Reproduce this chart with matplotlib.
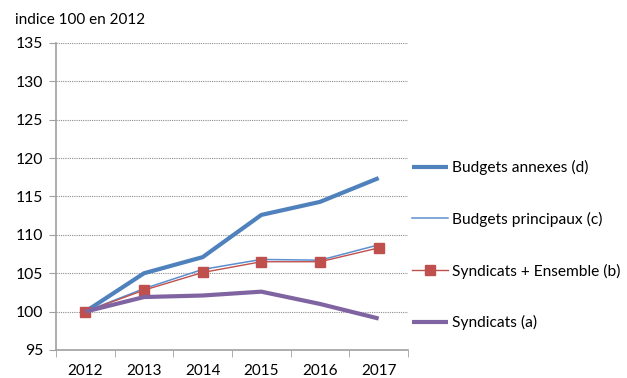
import numpy as np
import matplotlib.pyplot as plt
from matplotlib.ticker import FixedLocator

plt.rcParams['font.family'] = ['Lato', 'DejaVu Sans']

years = ["2012", "2013", "2014", "2015", "2016", "2017"]
budgets_annexes = [100, 105.0, 107.1, 112.6, 114.3, 117.4]
budgets_principaux = [100, 103.0, 105.5, 106.8, 106.7, 108.7]
syndicats_ensemble = [100, 102.8, 105.1, 106.5, 106.5, 108.3]
syndicats = [100, 101.9, 102.1, 102.6, 101.0, 99.1]

x = np.arange(len(years))

fig = plt.figure(figsize=(6.27, 3.78), dpi=100)
ax = fig.add_axes([56 / 627, 1 - 350 / 378, 352 / 627, 307 / 378])

h1, = ax.plot(x, budgets_annexes, color="#4F81BD", lw=3.0, solid_capstyle="butt",
              label="Budgets annexes (d)")
h2, = ax.plot(x, budgets_principaux, color="#5B8FD0", lw=1.1,
              label="Budgets principaux (c)")
h3, = ax.plot(x, syndicats_ensemble, color="#C0504D", lw=1.0, marker="s",
              markersize=7, markeredgecolor="#C0504D", label="Syndicats + Ensemble (b)")
h4, = ax.plot(x, syndicats, color="#8064A2", lw=3.0, solid_capstyle="butt",
              label="Syndicats (a)")

ax.set_xlim(-0.5, len(years) - 0.5)
ax.set_ylim(95, 135)
ax.set_yticks(range(95, 136, 5))
ax.set_xticks(x)
ax.set_xticklabels(years)
ax.xaxis.set_minor_locator(FixedLocator(np.arange(-0.5, len(years), 1)))
ax.tick_params(axis="x", which="major", length=0, pad=10, labelsize=11)
ax.tick_params(axis="x", which="minor", length=5, color="#A0A0A0", direction="out")
ax.tick_params(axis="y", length=5, color="#A0A0A0", direction="out", labelsize=11.3, pad=4)

ax.grid(axis="y", linestyle=(0, (1, 1)), color="#8C8C8C", lw=0.8)
for s in ["top", "right"]:
    ax.spines[s].set_visible(False)
for s in ["left", "bottom"]:
    ax.spines[s].set_color("#A0A0A0")
    ax.spines[s].set_linewidth(1.2)

fig.text(15 / 627, 1 - 20 / 378, "indice 100 en 2012", fontsize=11, va="center", ha="left")

fig.legend(handles=[h1, h2, h3, h4], loc="upper left",
           bbox_to_anchor=(398 / 627, 1 - 146 / 378), frameon=False,
           fontsize=11.2, handlelength=2.3, handletextpad=0.25, labelspacing=2.36)

fig.savefig("out.png", dpi=100)
